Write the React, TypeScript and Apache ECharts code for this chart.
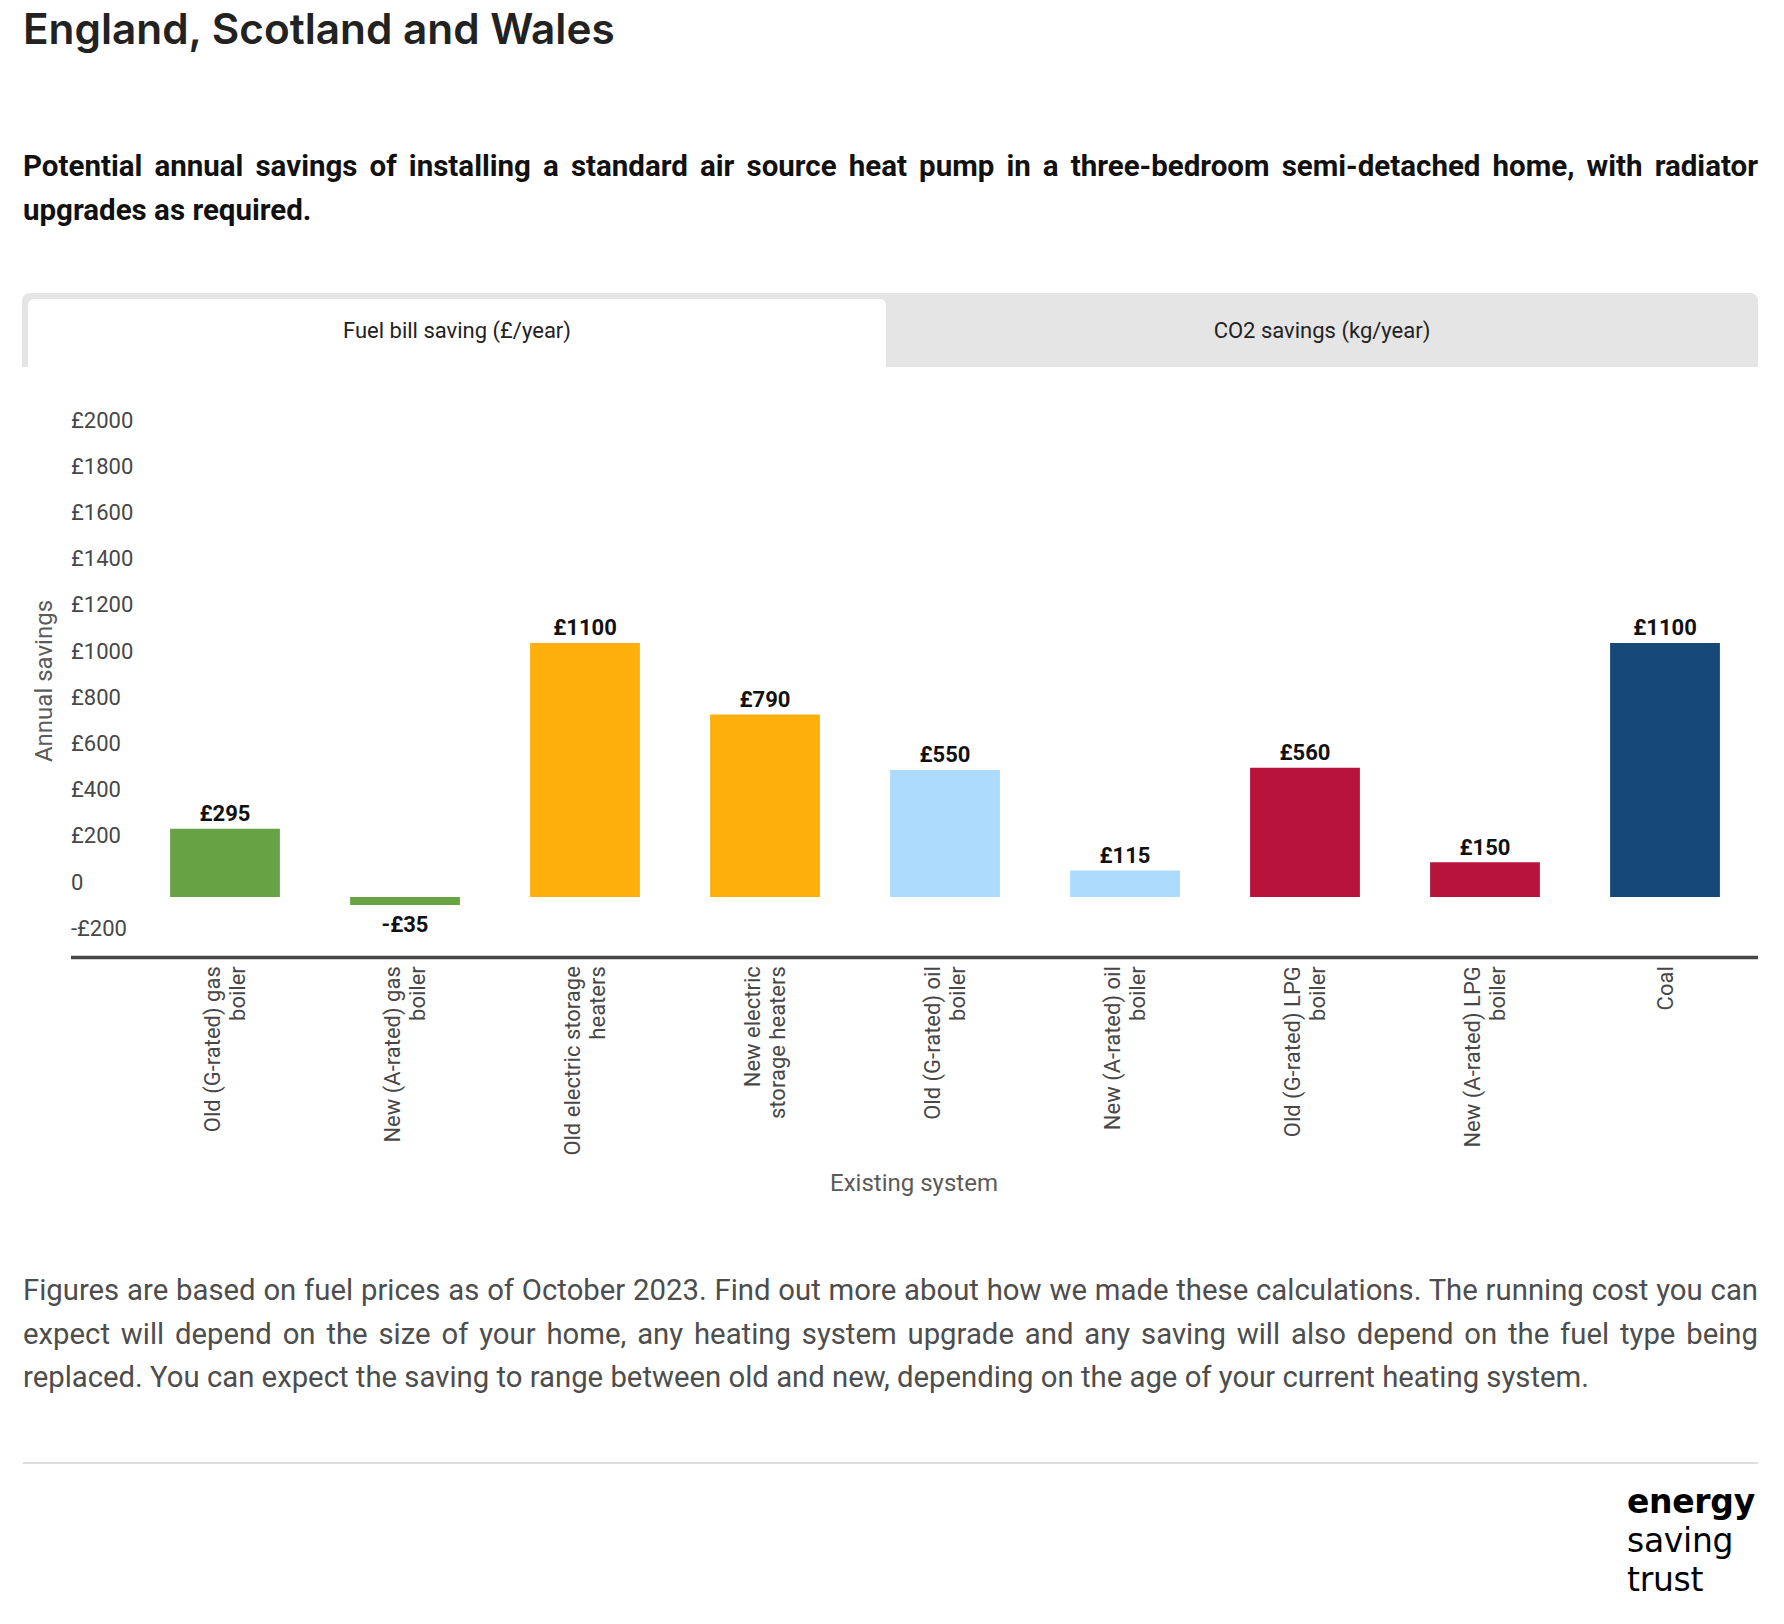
import React, { useRef, useEffect } from 'react'
import * as echarts from 'echarts'

// categories and values
const systems = [
  'Old (G-rated) gas\nboiler',
  'New (A-rated) gas\nboiler',
  'Old electric storage\nheaters',
  'New electric\nstorage heaters',
  'Old (G-rated) oil\nboiler',
  'New (A-rated) oil\nboiler',
  'Old (G-rated) LPG\nboiler',
  'New (A-rated) LPG\nboiler',
  'Coal',
]
const savings = [295, -35, 1100, 790, 550, 115, 560, 150, 1100]
const barColors = [
  '#67a345',
  '#67a345',
  '#fdaf0c',
  '#fdaf0c',
  '#acdbfe',
  '#acdbfe',
  '#b8133b',
  '#b8133b',
  '#164878',
]
const yMin = -200
const yMax = 2000
const yStep = 200

const footLines = [
  'Figures are based on fuel prices as of October 2023. Find out more about how we made these calculations. The running cost you can',
  'expect will depend on the size of your home, any heating system upgrade and any saving will also depend on the fuel type being',
  'replaced. You can expect the saving to range between old and new, depending on the age of your current heating system.',
]

const money = (v: number) => (v === 0 ? '0' : v < 0 ? `-£${-v}` : `£${v}`)

const SavingsChart: React.FC = () => {
  const chartRef = useRef<HTMLDivElement>(null)

  useEffect(() => {
    if (!chartRef.current) return
    const chart = echarts.init(chartRef.current, null, { renderer: 'svg' })

    const option = {
      animation: false,
      textStyle: { fontFamily: 'Roboto' },
      grid: { left: 135, right: 29, top: 55, bottom: 286.8 },
      xAxis: {
        type: 'category',
        data: systems,
        axisLine: { show: false },
        axisTick: { show: false },
        axisLabel: {
          interval: 0,
          rotate: 90,
          margin: 23,
          fontSize: 22,
          lineHeight: 25,
          color: '#474747',
        },
      },
      yAxis: {
        type: 'value',
        min: yMin,
        max: yMax,
        interval: yStep,
        axisLine: { show: false },
        axisTick: { show: false },
        splitLine: { show: false },
        axisLabel: {
          align: 'left',
          margin: 64,
          verticalAlign: 'bottom',
          lineHeight: 30,
          fontSize: 22,
          color: '#474747',
          formatter: (v: number) => money(v),
        },
      },
      graphic: [
        {
          type: 'line',
          shape: { x1: 71, y1: 577.5, x2: 1758, y2: 577.5 },
          style: { stroke: '#474747', lineWidth: 3.5 },
        },
        {
          type: 'text',
          x: 44,
          y: 301,
          rotation: Math.PI / 2,
          style: {
            text: 'Annual savings',
            fontSize: 24,
            fontFamily: 'Roboto',
            fill: '#5a5a5a',
            align: 'center',
            verticalAlign: 'middle',
          },
        },
        {
          type: 'text',
          x: 914,
          y: 803,
          style: {
            text: 'Existing system',
            fontSize: 24,
            fontFamily: 'Roboto',
            fill: '#5a5a5a',
            align: 'center',
            verticalAlign: 'middle',
          },
        },
      ],
      series: [
        {
          type: 'bar',
          barWidth: '61%',
          data: savings.map((v, i) => ({
            value: v,
            itemStyle: { color: barColors[i] },
            label: v < 0 ? { position: 'bottom', distance: 8 } : { position: 'top', distance: 4 },
          })),
          label: {
            show: true,
            fontSize: 22,
            fontWeight: 'bold',
            color: '#111111',
            formatter: (p: any) => money(p.value),
          },
        },
      ],
    }

    chart.setOption(option)

    return () => {
      chart.dispose()
    }
  }, [])

  return (
    <div
      ref={chartRef}
      style={{ position: 'absolute', left: 0, top: 380, width: 1784, height: 850 }}
    />
  )
}

const App: React.FC = () => {
  return (
    <div
      style={{
        position: 'absolute',
        left: 0,
        top: 0,
        width: 1784,
        height: 1624,
        background: '#ffffff',
        fontFamily: 'Roboto, sans-serif',
        overflow: 'hidden',
      }}
    >
      <div
        style={{
          position: 'absolute',
          left: 23,
          top: 5,
          fontFamily: 'Inter, sans-serif',
          fontWeight: 600,
          fontSize: 42.3,
          lineHeight: '48px',
          color: '#222222',
          whiteSpace: 'nowrap',
        }}
      >
        England, Scotland and Wales
      </div>

      <div
        style={{
          position: 'absolute',
          left: 23,
          top: 144,
          width: 1735,
          fontWeight: 700,
          fontSize: 29.5,
          lineHeight: '44px',
          color: '#111111',
        }}
      >
        <div style={{ textAlign: 'justify', textAlignLast: 'justify', whiteSpace: 'nowrap' as const }}>
          Potential annual savings of installing a standard air source heat pump in a three-bedroom semi-detached home, with radiator
        </div>
        <div>upgrades as required.</div>
      </div>

      {/* tabs */}
      <div
        style={{
          position: 'absolute',
          left: 22,
          top: 293,
          width: 1736,
          height: 74,
          background: '#e5e5e5',
          borderRadius: '8px 8px 0 0',
        }}
      >
        <div
          style={{
            position: 'absolute',
            left: 6,
            top: 6,
            width: 858,
            height: 68,
            background: '#ffffff',
            borderRadius: '6px 6px 0 0',
            display: 'flex',
            alignItems: 'center',
            justifyContent: 'center',
            paddingBottom: 6,
            boxSizing: 'border-box',
            fontSize: 22,
            color: '#222222',
          }}
        >
          Fuel bill saving (£/year)
        </div>
        <div
          style={{
            position: 'absolute',
            left: 864,
            top: 6,
            width: 872,
            height: 68,
            display: 'flex',
            alignItems: 'center',
            justifyContent: 'center',
            paddingBottom: 6,
            boxSizing: 'border-box',
            fontSize: 22,
            color: '#222222',
          }}
        >
          CO2 savings (kg/year)
        </div>
      </div>

      <SavingsChart />

      <div
        style={{
          position: 'absolute',
          left: 23,
          top: 1269,
          width: 1735,
          fontSize: 29.3,
          lineHeight: '43.5px',
          color: '#4d4d4d',
        }}
      >
        {footLines.map((line, i) => (
          <div
            key={i}
            style={
              i < footLines.length - 1
                ? { textAlign: 'justify', textAlignLast: 'justify', whiteSpace: 'nowrap' as const }
                : { whiteSpace: 'nowrap' as const }
            }
          >
            {line}
          </div>
        ))}
      </div>

      <div
        style={{
          position: 'absolute',
          left: 23,
          top: 1462,
          width: 1735,
          height: 2,
          background: '#dddddd',
        }}
      />

      <div
        style={{
          position: 'absolute',
          left: 1627,
          top: 1482,
          fontFamily: '"DejaVu Sans", sans-serif',
          fontSize: 33,
          lineHeight: '39px',
          color: '#000000',
          letterSpacing: -0.3,
        }}
      >
        <div style={{ fontWeight: 700 }}>energy</div>
        <div>saving</div>
        <div>trust</div>
      </div>
    </div>
  )
}

export default App
